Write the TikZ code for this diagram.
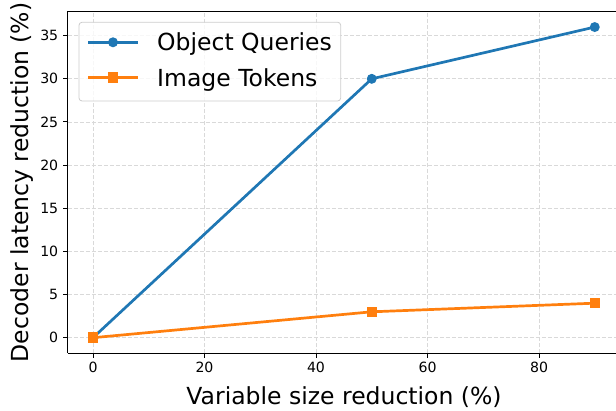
\documentclass[tikz,border=0pt]{standalone}
\usepackage{fontspec}
\setmainfont{DejaVu Sans}
\definecolor{tabblue}{HTML}{1F77B4}
\definecolor{taborange}{HTML}{FF7F0E}
\tikzset{
 gridline/.style={draw=black!15, line width=0.8pt, dash pattern=on 4pt off 2pt},
 spine/.style={draw=black, line width=1pt},
 ticklabel/.style={inner sep=0pt, font=\fontsize{14.1}{17}\selectfont},
 axislabel/.style={inner sep=0pt, font=\fontsize{23.5}{28}\selectfont},
 queryline/.style={draw=tabblue, line width=2.7pt, line join=round},
 tokenline/.style={draw=taborange, line width=2.7pt, line join=round},
 querydot/.style={circle, fill=tabblue, inner sep=0pt, minimum size=10pt},
 tokendot/.style={rectangle, fill=taborange, inner sep=0pt, minimum size=10.5pt}
}
\begin{document}
\begin{tikzpicture}[x=1pt,y=1pt]
 \useasboundingbox (0,0) rectangle (616,411);
 \clip (0,0) rectangle (616,411);
 % axes frame: x from -4.5 to 94.5, y from -1.8 to 37.8
 \begin{scope}[shift={(93,73.3)},xscale=5.575,yscale=8.629]
  \coordinate (ll) at (-4.5,-1.8);
  \coordinate (ur) at (94.5,37.8);
  \foreach \x in {0,20,...,80} {
   \draw[gridline] (\x,-1.8) -- (\x,37.8);
   \coordinate (xa\x) at (\x,-1.8);
  }
  \foreach \y in {0,5,...,35} {
   \draw[gridline] (-4.5,\y) -- (94.5,\y);
   \coordinate (ya\y) at (-4.5,\y);
  }
  % data
  \coordinate (q0) at (0,0);
  \coordinate (q1) at (50,30);
  \coordinate (q2) at (90,36);
  \coordinate (t0) at (0,0);
  \coordinate (t1) at (50,3);
  \coordinate (t2) at (90,4);
 \end{scope}
 % ticks
 \foreach \x in {0,20,...,80} {
  \draw[spine] (xa\x) -- ++(0,-5) coordinate (xt\x);
  \node[ticklabel,anchor=north] (xl\x) at ([yshift=-3.5pt]xt\x) {\x};
 }
 \foreach \y in {0,5,...,35} {
  \draw[spine] (ya\y) -- ++(-5,0) coordinate (yt\y);
  \node[ticklabel,anchor=east] (yl\y) at ([xshift=-4.5pt]yt\y) {\y};
 }
 \draw[queryline] (q0) -- (q1) -- (q2);
 \draw[tokenline] (t0) -- (t1) -- (t2);
 \foreach \i in {0,1,2} \node[querydot] (qm\i) at (q\i) {};
 \foreach \i in {0,1,2} \node[tokendot] (tm\i) at (t\i) {};
 \draw[spine] (ll) |- (ur);
 \draw[spine] (ll) -| (ur);
 % legend
 \draw[draw=black!20, line width=0.8pt, fill=white, fill opacity=0.8, rounded corners=3pt] (79,388.7) rectangle (340.7,310);
 \coordinate (lq0) at (88,368.7);
 \coordinate (lq1) at (138,368.7);
 \coordinate (lt0) at (88,333.3);
 \coordinate (lt1) at (138,333.3);
 \draw[queryline] (lq0) -- (lq1);
 \node[querydot] (lqm) at (113,368.7) {};
 \draw[tokenline] (lt0) -- (lt1);
 \node[tokendot] (ltm) at (113,333.3) {};
 \node[axislabel,anchor=base west] (lqt) at (157,360) {Object Queries};
 \node[axislabel,anchor=base west] (ltt) at (157,324.3) {Image Tokens};
 % axis labels
 \node[axislabel,anchor=base] (xlab) at (344,6) {Variable size reduction (\%)};
 \node[axislabel,anchor=base,rotate=90] (ylab) at (28,228.6) {Decoder latency reduction (\%)};
\end{tikzpicture}
\end{document}
